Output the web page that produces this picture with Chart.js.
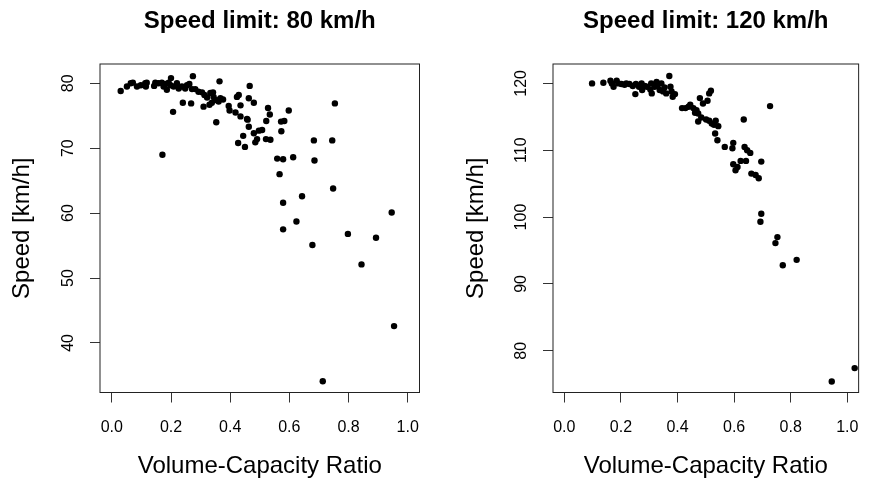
<!DOCTYPE html>
<html>
<head>
<meta charset="utf-8">
<script src="https://cdn.jsdelivr.net/npm/chart.js@4/dist/chart.umd.min.js"></script>
<style>
  html,body{margin:0;padding:0;background:#fff;}
  #wrap{position:relative;width:874px;height:481px;}
  canvas{position:absolute;top:0;}
  #c80{left:0;}
  #c120{left:437px;}
</style>
</head>
<body>
<div id="wrap">
  <canvas id="c80" width="437" height="481"></canvas>
  <canvas id="c120" width="437" height="481"></canvas>
</div>
<script>
// data
const vcr80 = [0.030,0.051,0.064,0.071,0.085,0.098,0.113,0.118,0.115,0.143,0.147,0.158,0.169,0.175,0.181,0.186,0.192,0.200,0.198,0.209,
  0.220,0.226,0.237,0.248,0.254,0.262,0.274,0.271,0.282,0.293,0.305,0.313,0.322,0.333,0.342,0.344,0.355,0.364,0.367,0.376,
  0.240,0.268,0.207,0.310,0.330,0.338,0.353,0.361,0.395,0.398,0.423,0.429,0.435,0.418,0.435,0.457,0.466,0.463,0.480,0.459,
  0.463,0.427,0.444,0.450,0.480,0.485,0.491,0.497,0.508,0.521,0.528,0.534,0.522,0.536,0.572,0.583,0.573,0.598,0.559,0.579,
  0.613,0.567,0.579,0.643,0.683,0.685,0.745,0.754,0.748,0.946,0.171,0.579,0.624,0.678,0.798,0.844,0.893,0.954,0.713];
const speed80 = [78.8,79.5,80.0,80.1,79.5,79.7,80.0,80.1,79.5,79.6,80.1,80.0,80.1,79.5,79.9,79.0,80.1,80.8,79.7,79.5,
  80.0,79.2,79.5,79.2,79.7,79.9,81.1,79.1,79.1,78.7,78.6,78.2,77.8,78.5,78.6,77.9,77.4,80.3,77.7,77.5,
  77.0,76.9,75.6,76.4,76.7,77.0,74.0,77.2,76.5,75.8,77.9,78.2,76.6,75.5,74.9,74.5,79.6,77.7,77.0,74.4,
  73.3,70.8,71.9,70.2,72.3,70.9,71.4,72.7,72.8,71.4,76.2,75.2,74.2,71.3,74.1,74.2,72.6,75.8,68.4,68.3,
  68.6,66.0,61.6,62.6,71.2,68.1,71.2,76.9,63.8,60.1,69.0,57.5,58.7,55.1,56.8,52.1,56.2,42.6,34.1];

const vcr120 = [0.098,0.138,0.163,0.168,0.174,0.185,0.191,0.202,0.213,0.219,0.230,0.242,0.251,0.253,0.264,0.273,0.275,0.284,0.292,0.304,
  0.307,0.309,0.319,0.326,0.330,0.337,0.343,0.349,0.354,0.360,0.371,0.375,0.379,0.383,0.391,0.416,0.428,0.439,0.445,0.456,
  0.462,0.467,0.473,0.473,0.484,0.479,0.490,0.506,0.512,0.518,0.501,0.512,0.521,0.529,0.535,0.544,0.533,0.541,0.567,0.597,
  0.594,0.634,0.637,0.646,0.657,0.597,0.605,0.612,0.623,0.642,0.661,0.676,0.687,0.696,0.727,0.696,0.693,0.753,0.746,0.772,
  0.821,0.945,1.026];
const speed120 = [120.0,120.1,120.4,120.0,119.5,120.4,120.0,119.9,119.8,120.0,119.9,119.6,118.4,119.9,119.5,120.0,119.0,119.6,119.5,119.1,
  120.0,118.5,119.5,120.2,119.8,119.0,120.0,118.8,119.4,118.5,121.1,119.5,118.8,118.0,118.4,116.3,116.3,116.5,116.8,116.3,
  115.6,116.0,115.5,114.3,114.9,117.8,117.0,117.4,118.5,118.9,114.6,114.4,114.0,113.8,114.4,113.6,112.5,111.5,110.5,111.1,
  110.3,114.6,110.5,110.0,109.6,107.9,107.0,107.5,108.4,108.4,106.5,106.3,105.8,108.3,116.6,100.5,99.3,97.0,96.1,92.8,
  93.6,75.4,77.4];

const xTicks = [0, 0.2, 0.4, 0.6, 0.8, 1.0];
const yTicks80 = [40, 50, 60, 70, 80];
const yTicks120 = [80, 90, 100, 110, 120];

const FONT = "'Liberation Sans', Arial, Helvetica, sans-serif";

// box round the plot area, like R's box()
const frame = {
  id: 'frame',
  beforeDatasetsDraw(chart) {
    const a = chart.chartArea, ctx = chart.ctx;
    ctx.save();
    ctx.strokeStyle = '#222';
    ctx.lineWidth = 1;
    ctx.strokeRect(a.left, a.top, a.right - a.left, a.bottom - a.top);
    ctx.restore();
  }
};

// y tick labels turned to read bottom to top, as R does by default
const yLabels = {
  id: 'yLabels',
  afterDraw(chart) {
    const s = chart.scales.y, ctx = chart.ctx;
    const x = chart.chartArea.left - 31;
    ctx.save();
    ctx.fillStyle = '#000';
    ctx.font = '16px ' + FONT;
    ctx.textAlign = 'center';
    ctx.textBaseline = 'middle';
    s.ticks.forEach(t => {
      ctx.save();
      ctx.translate(x, s.getPixelForValue(t.value));
      ctx.rotate(-Math.PI / 2);
      ctx.fillText(String(t.value), 0, 0);
      ctx.restore();
    });
    ctx.restore();
  }
};

function makeChart(id, title, xs, ys, yTicks, yRange, opt) {
  const pts = xs.map((x, i) => ({x: x, y: ys[i]}));
  return new Chart(document.getElementById(id), {
    type: 'scatter',
    data: {datasets: [{data: pts, backgroundColor: '#000', borderWidth: 0, pointRadius: 3.2, pointHoverRadius: 3.2}]},
    options: {
      responsive: false,
      animation: false,
      devicePixelRatio: 1,
      layout: {padding: {left: 0, right: opt.padRight, top: 0, bottom: 0}},
      plugins: {
        legend: {display: false},
        tooltip: {enabled: false},
        title: {
          display: true, text: title, color: '#000', fullSize: false,
          font: {family: FONT, size: 24, weight: 'bold', lineHeight: 1.2},
          padding: {top: 7.3, bottom: 27.9}
        }
      },
      scales: {
        x: {
          type: 'linear', min: -0.04, max: 1.04,
          afterBuildTicks: s => { s.ticks = xTicks.map(v => ({value: v})); },
          afterFit: s => { s.height = 88.5; },
          border: {display: false},
          grid: {drawOnChartArea: false, tickLength: 10, tickColor: '#333', lineWidth: 1},
          ticks: {color: '#000', font: {family: FONT, size: 16}, padding: 15, callback: v => v.toFixed(1), maxRotation: 0},
          title: {display: true, text: 'Volume-Capacity Ratio', color: '#000',
                  font: {family: FONT, size: 24, lineHeight: 1.2}, padding: {top: 0, bottom: 0}}
        },
        y: {
          type: 'linear', min: yRange[0], max: yRange[1],
          afterBuildTicks: s => { s.ticks = yTicks.map(v => ({value: v})); },
          afterFit: s => { s.width = opt.yWidth; },
          border: {display: false},
          grid: {drawOnChartArea: false, tickLength: 10, tickColor: '#333', lineWidth: 1},
          ticks: {display: false},
          title: {display: true, text: 'Speed [km/h]', color: '#000',
                  font: {family: FONT, size: 24, lineHeight: 1.2}, padding: {top: opt.titlePad, bottom: 0}}
        }
      }
    },
    plugins: [frame, yLabels]
  });
}

makeChart('c80', 'Speed limit: 80 km/h', vcr80, speed80, yTicks80, [32.37, 82.97],
  {padRight: 17.5, yWidth: 100, titlePad: 8});
makeChart('c120', 'Speed limit: 120 km/h', vcr120, speed120, yTicks120, [73.75, 122.9],
  {padRight: 2, yWidth: 116, titlePad: 24.5});
</script>
</body>
</html>
